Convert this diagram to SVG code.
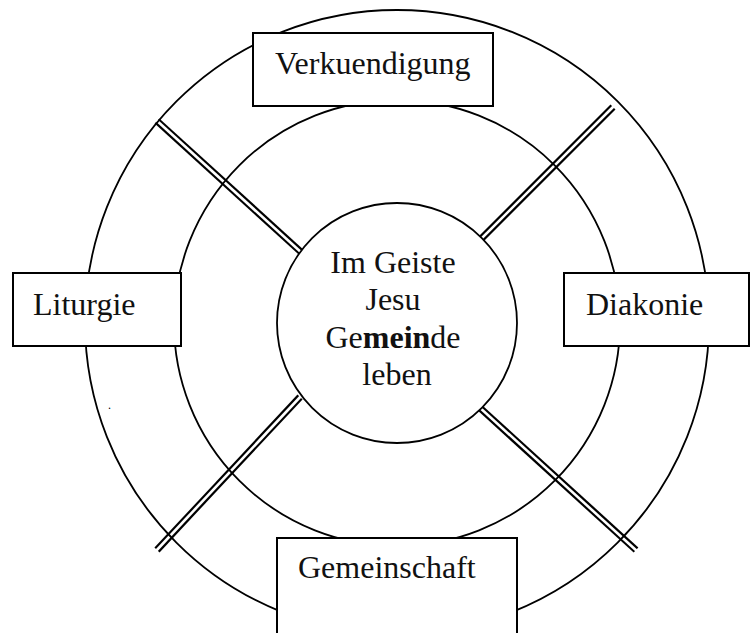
<svg xmlns="http://www.w3.org/2000/svg" width="751" height="633" viewBox="0 0 751 633">
<style>
.ring{fill:none;stroke:#000;stroke-width:1.8}
.box{fill:#fff;stroke:#000;stroke-width:2}
.lbl{font-family:"Liberation Serif","Times New Roman",serif;font-size:32px;fill:#111}
.dbl-o{stroke:#000;stroke-width:7;stroke-linecap:butt}
.dbl-i{stroke:#fff;stroke-width:2.6;stroke-linecap:butt}
</style>
<rect width="751" height="633" fill="#fff"/>
<g id="connectors">
<line class="dbl-o" x1="157" y1="121" x2="301" y2="252"/>
<line class="dbl-i" x1="155" y1="119" x2="303" y2="254"/>
<line class="dbl-o" x1="613" y1="107" x2="469" y2="251"/>
<line class="dbl-i" x1="615" y1="105" x2="467" y2="253"/>
<line class="dbl-o" x1="300" y1="397" x2="157" y2="550"/>
<line class="dbl-i" x1="302" y1="395" x2="155" y2="552"/>
<line class="dbl-o" x1="468" y1="397" x2="636" y2="550"/>
<line class="dbl-i" x1="466" y1="395" x2="638" y2="552"/>
</g>
<g id="rings">
<circle class="ring" cx="397" cy="322" r="312"/>
<circle class="ring" cx="397" cy="323" r="223"/>
</g>
<g id="center">
<circle class="ring" cx="397" cy="323" r="120" style="fill:#fff"/>
<text class="lbl" text-anchor="middle">
<tspan x="397" y="273">Im Geiste</tspan>
<tspan x="397" y="310">Jesu</tspan>
<tspan x="397" y="348">Ge<tspan font-weight="bold">mein</tspan>de</tspan>
<tspan x="397" y="385">leben</tspan>
</text>
</g>
<g id="verkuendigung">
<rect class="box" x="253" y="33" width="240" height="73"/>
<text class="lbl" x="275" y="74">Verkuendigung</text>
</g>
<g id="liturgie">
<rect class="box" x="13" y="273" width="168" height="73"/>
<text class="lbl" x="33" y="315">Liturgie</text>
</g>
<g id="diakonie">
<rect class="box" x="564" y="273" width="185" height="73"/>
<text class="lbl" x="586" y="315">Diakonie</text>
</g>
<g id="gemeinschaft">
<rect class="box" x="277" y="538" width="240" height="110"/>
<text class="lbl" x="298" y="578">Gemeinschaft</text>
</g>
<text x="108" y="409" style="font-family:'Liberation Serif',serif;font-size:12px;fill:#000">.</text>
</svg>
